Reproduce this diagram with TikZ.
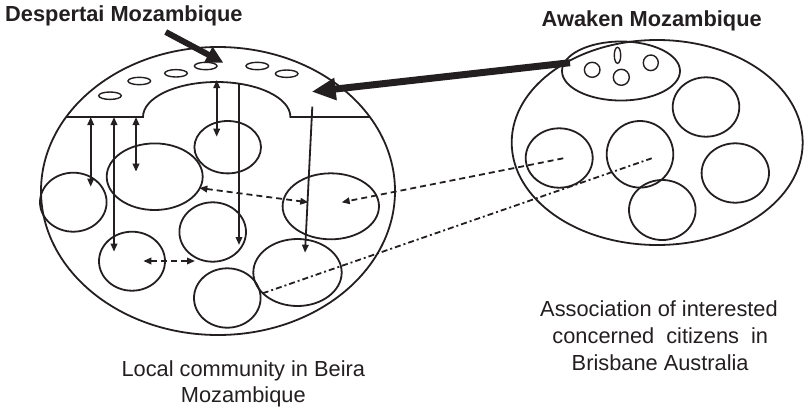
\documentclass[tikz,border=0pt]{standalone}
\usepackage{fontspec}
\setmainfont{Liberation Sans}
\usetikzlibrary{arrows.meta,shapes.geometric}
\definecolor{ink}{RGB}{35,31,32}

\begin{document}
\begin{tikzpicture}[x=1pt,y=-1pt,
  every path/.style={color=ink},
  oval/.style 2 args={draw=ink, ellipse, line width=1.8pt, inner sep=0pt,
    outer sep=0pt, minimum width=#1pt, minimum height=#2pt},
  hole/.style 2 args={oval={#1}{#2}, line width=1.4pt},
  >={Triangle[length=8pt,width=6.5pt]},
  link/.style={line width=1.8pt},
  dashlink/.style={line width=1.8pt, dash pattern=on 6pt off 4pt},
  dotlink/.style={line width=1.8pt, dash pattern=on 6pt off 3pt on 2pt off 3pt},
  label/.style={inner sep=0pt, text=ink, font=\fontsize{21.8pt}{26.7pt}\selectfont},
  title/.style={label, font=\fontsize{21.8pt}{26.7pt}\selectfont\bfseries},
]
\useasboundingbox (0,0) rectangle (804,408);

% ---------- local community in Beira ----------
\node[oval={354}{288}] (beira) at (218,191) {};

% Despertai Mozambique: the cap along the top of the community
\coordinate (capL) at (66.2,117);
\coordinate (capR) at (369.8,117);
\coordinate (innL) at (143,117);
\draw[line width=1.8pt] (capL) -- (innL)
  arc[start angle=180, end angle=360, x radius=73.7, y radius=35] -- (capR);
\node[hole={22.6}{7.4}] (d1) at (110,95.7) {};
\node[hole={22.6}{7.4}] (d2) at (139.3,81) {};
\node[hole={22.6}{7.4}] (d3) at (176,73.3) {};
\node[hole={22.6}{7.4}] (d4) at (205.7,66) {};
\node[hole={22.6}{7.4}] (d5) at (257.3,66) {};
\node[hole={22.6}{7.4}] (d6) at (286.7,73.7) {};

% groups inside the community
\node[oval={66.6}{52.4}] (g1) at (227.7,147.2) {};
\node[oval={96}{66.6}]   (g2) at (154.7,176.7) {};
\node[oval={66.6}{59}]   (g3) at (73.3,202.2) {};
\node[oval={96.4}{66}]   (g4) at (330.8,206.3) {};
\node[oval={66.6}{59.4}] (g5) at (212.7,232) {};
\node[oval={66}{59}]     (g6) at (132,261.2) {};
\node[oval={88.4}{67}]   (g7) at (297.5,272.5) {};
\node[oval={66.6}{59.4}] (g8) at (227.3,298) {};

% ---------- association in Brisbane ----------
\node[oval={291}{205}] (assoc) at (657.2,142.5) {};
\node[oval={118}{59}]  (awaken) at (621,71) {};
\node[hole={15.6}{15}] (w1) at (592.2,69.8) {};
\node[hole={6.4}{16}]  (w2) at (617.5,55.3) {};
\node[hole={16}{16}]   (w3) at (621.3,77.3) {};
\node[hole={15}{15.6}] (w4) at (650.8,62.8) {};

\node[oval={66.6}{59.4}] (b1) at (706,107) {};
\node[oval={67}{59.4}]   (b2) at (559.2,158) {};
\node[oval={66.6}{66.6}] (b3) at (640,154.3) {};
\node[oval={67.4}{59.4}] (b4) at (735.3,173) {};
\node[oval={66.6}{60}]   (b5) at (662.3,210) {};

% ---------- connector end points ----------
\coordinate (v1a) at (90.7,117);   \coordinate (v1b) at (90.7,186.7);
\coordinate (v2a) at (114,117);    \coordinate (v2b) at (114,251.7);
\coordinate (v3a) at (136,117);    \coordinate (v3b) at (136,171.7);
\coordinate (v4a) at (216.7,80);   \coordinate (v4b) at (216.7,136.7);
\coordinate (v5a) at (239,84);     \coordinate (v5b) at (239,245);
\coordinate (v6a) at (312.3,106.7);\coordinate (v6b) at (305,252.7);
\coordinate (h1a) at (199.3,188);  \coordinate (h1b) at (308.3,202.3);
\coordinate (h2a) at (143.3,261);  \coordinate (h2b) at (195,261);
\coordinate (x1a) at (563.3,158.3);\coordinate (x1b) at (341.7,202.3);
\coordinate (x2a) at (262.7,293.3);\coordinate (x2b) at (651.7,158.3);
\coordinate (m1a) at (165.7,32);   \coordinate (m1b) at (223.3,62.7);
\coordinate (m2a) at (570,62.7);   \coordinate (m2b) at (311.7,91.7);

% links between the cap and the groups
\draw[link,<->] (v1a) -- (v1b);
\draw[link,<->] (v2a) -- (v2b);
\draw[link,<->] (v3a) -- (v3b);
\draw[link,<->] (v4a) -- (v4b);
\draw[link,->]  (v5a) -- (v5b);
\draw[link,->]  (v6a) -- (v6b);

% links among groups and between the two communities
\draw[dashlink,<->] (h1a) -- (h1b);
\draw[dashlink,<->] (h2a) -- (h2b);
\draw[dashlink,->]  (x1a) -- (x1b);
\draw[dotlink]      (x2a) -- (x2b);

% heavy pointers
\draw[line width=6pt,-{Triangle[length=17pt,width=17pt]}] (m1a) -- (m1b);
\draw[line width=7pt,-{Triangle[length=24pt,width=21pt]}] (m2a) -- (m2b);

% ---------- labels ----------
\node[title, anchor=base west] (tdes) at (5,21.7) {Despertai Mozambique};
\node[title, anchor=base west] (tawa) at (541.5,26.7) {Awaken Mozambique};
\node[label, anchor=base] (lb1) at (243.3,376) {Local community in Beira};
\node[label, anchor=base] (lb2) at (243.3,402.7) {Mozambique};
\node[label, anchor=base] (lr1) at (659,316.7) {Association of interested};
\node[label, anchor=base] (lr2) at (660.3,343.3) {concerned\ \ citizens\ \ in};
\node[label, anchor=base] (lr3) at (660.2,370) {Brisbane Australia};
\end{tikzpicture}
\end{document}
